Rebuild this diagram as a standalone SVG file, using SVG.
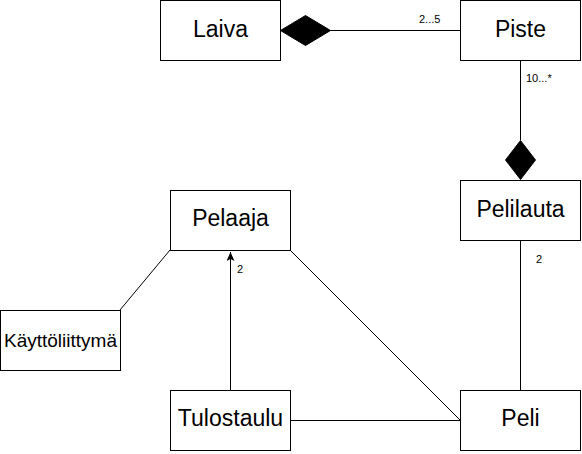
<svg xmlns="http://www.w3.org/2000/svg" width="582" height="454" viewBox="0 0 582 454">
<style>
.box{fill:#fff;stroke:#000;stroke-width:1}
.t{font-family:"Liberation Sans",Arial,sans-serif;font-size:23px;text-anchor:middle;fill:#000}
.s{font-family:"Liberation Sans",Arial,sans-serif;font-size:11px;fill:#000}
.c{stroke:#000;stroke-width:1;fill:none}
.d{fill:#000;stroke:#000;stroke-width:1}
</style>
<defs>
<marker id="arr" markerWidth="10" markerHeight="10" refX="9" refY="4" orient="auto" markerUnits="userSpaceOnUse">
<path d="M0,0 L9,4 L0,8 L2,4 Z" fill="#000"/>
</marker>
</defs>
<g id="connectors">
<line class="c" x1="330" y1="30.5" x2="460" y2="30.5"/>
<path class="d" d="M280.5,30.5 L305.5,15.5 L330.5,30.5 L305.5,45.5 Z"/>
<line class="c" x1="520.5" y1="60" x2="520.5" y2="140"/>
<path class="d" d="M520.5,140.5 L535.5,160 L520.5,179.5 L505.5,160 Z"/>
<line class="c" x1="170" y1="250" x2="120" y2="310"/>
<line class="c" x1="230.5" y1="390" x2="230.5" y2="252" marker-end="url(#arr)"/>
<line class="c" x1="290" y1="250" x2="460" y2="420"/>
<line class="c" x1="290" y1="420.5" x2="460" y2="420.5"/>
<line class="c" x1="520.5" y1="240" x2="520.5" y2="390"/>
<text class="s" x="419" y="23">2...5</text>
<text class="s" x="526" y="82">10...*</text>
<text class="s" x="237" y="273">2</text>
<text class="s" x="536" y="263">2</text>
</g>
<g id="Laiva"><rect class="box" x="160.5" y="0.5" width="120" height="60"/><text class="t" x="220.5" y="37">Laiva</text></g>
<g id="Piste"><rect class="box" x="460.5" y="0.5" width="120" height="60"/><text class="t" x="520.5" y="37">Piste</text></g>
<g id="Pelilauta"><rect class="box" x="460.5" y="180.5" width="120" height="60"/><text class="t" x="520.5" y="217">Pelilauta</text></g>
<g id="Pelaaja"><rect class="box" x="170.5" y="190.5" width="120" height="60"/><text class="t" x="230.5" y="226">Pelaaja</text></g>
<g id="Kayttoliittyma"><rect class="box" x="0.5" y="310.5" width="120" height="60"/><text class="t" x="60.5" y="347" style="font-size:19px">Käyttöliittymä</text></g>
<g id="Tulostaulu"><rect class="box" x="170.5" y="390.5" width="120" height="60"/><text class="t" x="230.5" y="426">Tulostaulu</text></g>
<g id="Peli"><rect class="box" x="460.5" y="390.5" width="120" height="60"/><text class="t" x="520.5" y="426">Peli</text></g>
</svg>
